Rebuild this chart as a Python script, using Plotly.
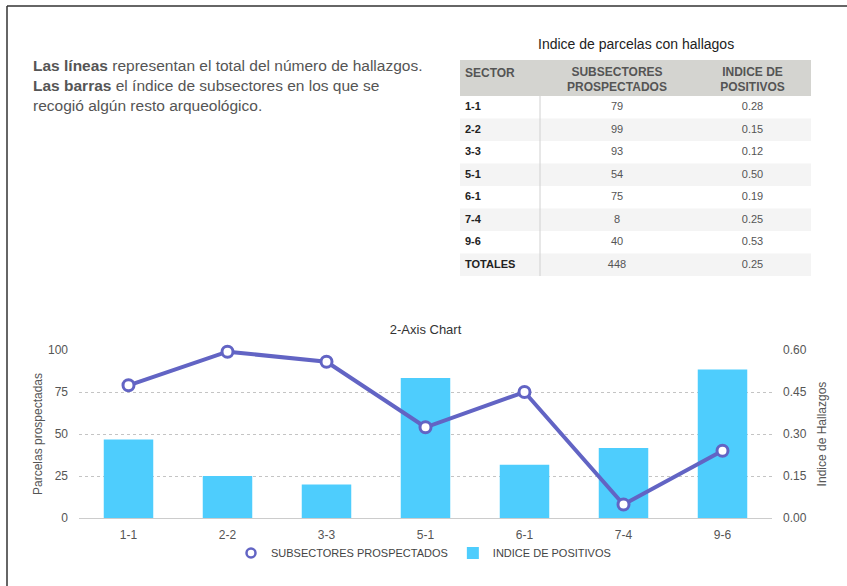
import plotly.graph_objects as go

W, H = 847, 586

# ---- data ----
sectors = ["1-1", "2-2", "3-3", "5-1", "6-1", "7-4", "9-6"]
subsectores = [79, 99, 93, 54, 75, 8, 40]
indice = [0.28, 0.15, 0.12, 0.50, 0.19, 0.25, 0.53]
total_label = "TOTALES"
total_subsectores = 448
total_indice = 0.25
left_ticks = [0, 25, 50, 75, 100]
right_ticks = [0.0, 0.15, 0.30, 0.45, 0.60]
table_headers = ["SECTOR", "SUBSECTORES<br>PROSPECTADOS", "INDICE DE<br>POSITIVOS"]

LINE_C = "#6264c4"
BAR_C = "#4ecdfd"
FONT = "Liberation Sans, Arial, Helvetica, sans-serif"


def px_x(x):
    return x / W


def px_y(y):
    return 1 - y / H


fig = go.Figure()

# ---------------- main chart ----------------
fig.add_trace(go.Bar(
    x=sectors, y=indice, name="INDICE DE POSITIVOS",
    marker=dict(color=BAR_C, line=dict(width=0)),
    xaxis="x", yaxis="y", showlegend=True, legendrank=2,
))
fig.add_trace(go.Scatter(
    x=sectors, y=subsectores, name="SUBSECTORES PROSPECTADOS",
    mode="lines+markers", cliponaxis=False,
    line=dict(color=LINE_C, width=4),
    marker=dict(size=11, color="white", line=dict(color=LINE_C, width=3)),
    xaxis="x", yaxis="y2", showlegend=False,
))
fig.add_trace(go.Scatter(
    x=[None], y=[None], name="SUBSECTORES PROSPECTADOS", mode="markers",
    marker=dict(size=9, color="white", line=dict(color=LINE_C, width=2.5)),
    xaxis="x", yaxis="y2", showlegend=True, legendrank=1,
))

# ---------------- table (on its own hidden axes) ----------------
# x3 units: pixels across the table; y3 units: body rows (header = 1.6 rows)
col_edges = [0, 80, 234, 351]
header_h = 1.6
row_labels = sectors + [total_label]
row_sub = [str(v) for v in subsectores] + [str(total_subsectores)]
row_idx = [f"{v:.2f}" for v in indice] + [f"{total_indice:.2f}"]
n_rows = len(row_labels)
row_centers = [header_h + i + 0.5 for i in range(n_rows)]
row_fill = ["#ffffff" if i % 2 == 0 else "#f4f4f4" for i in range(n_rows)]
col_mid = [(col_edges[i] + col_edges[i + 1]) / 2 for i in range(3)]

# header fill
fig.add_trace(go.Bar(
    x=[col_edges[-1]], y=[header_h / 2], width=[header_h], orientation="h", base=0,
    marker=dict(color="#d4d4d0", line=dict(width=0)),
    xaxis="x3", yaxis="y3", showlegend=False, hoverinfo="skip",
))
# row fills
fig.add_trace(go.Bar(
    x=[col_edges[-1]] * n_rows, y=row_centers, width=[1] * n_rows, orientation="h", base=0,
    marker=dict(color=row_fill, line=dict(width=0)),
    xaxis="x3", yaxis="y3", showlegend=False, hoverinfo="skip",
))
# header texts
fig.add_trace(go.Scatter(
    x=[col_edges[0] + 5], y=[0.62], mode="text", text=[f"<b>{table_headers[0]}</b>"],
    textposition="middle right", textfont=dict(family=FONT, size=12, color="#555555"),
    xaxis="x3", yaxis="y3", showlegend=False, hoverinfo="skip",
))
fig.add_trace(go.Scatter(
    x=col_mid[1:], y=[0.91, 0.91], mode="text",
    text=[f"<b>{h}</b>" for h in table_headers[1:]],
    textposition="middle center", textfont=dict(family=FONT, size=12, color="#555555"),
    xaxis="x3", yaxis="y3", showlegend=False, hoverinfo="skip",
))
# body texts
fig.add_trace(go.Scatter(
    x=[col_edges[0] + 5] * n_rows, y=row_centers, mode="text",
    text=[f"<b>{s}</b>" for s in row_labels],
    textposition="middle right", textfont=dict(family=FONT, size=11, color="#222222"),
    xaxis="x3", yaxis="y3", showlegend=False, hoverinfo="skip",
))
fig.add_trace(go.Scatter(
    x=[col_mid[1]] * n_rows, y=row_centers, mode="text", text=row_sub,
    textposition="middle center", textfont=dict(family=FONT, size=11, color="#555555"),
    xaxis="x3", yaxis="y3", showlegend=False, hoverinfo="skip",
))
fig.add_trace(go.Scatter(
    x=[col_mid[2]] * n_rows, y=row_centers, mode="text", text=row_idx,
    textposition="middle center", textfont=dict(family=FONT, size=11, color="#555555"),
    xaxis="x3", yaxis="y3", showlegend=False, hoverinfo="skip",
))

hidden = dict(visible=False, showgrid=False, zeroline=False, fixedrange=True)

fig.update_layout(
    width=W, height=H,
    margin=dict(l=0, r=0, t=0, b=0),
    paper_bgcolor="white", plot_bgcolor="rgba(0,0,0,0)",
    font=dict(family=FONT, color="#555555", size=12),
    bargap=0.5,
    title=dict(
        text="2-Axis Chart", x=0.5024, xref="paper", xanchor="center",
        y=px_y(329), yref="container", yanchor="middle",
        font=dict(size=13, color="#333333"),
    ),
    xaxis=dict(
        domain=[px_x(79), px_x(772)], type="category",
        showgrid=False, showline=True, linecolor="#cccccc", linewidth=1,
        ticks="", tickfont=dict(size=12, color="#555555"),
        ticklabelstandoff=6, automargin=False, fixedrange=True,
    ),
    yaxis=dict(
        domain=[px_y(518), px_y(350)], side="right", anchor="x",
        range=[0, 0.6], tickvals=right_ticks,
        ticktext=[f"{v:.2f}" for v in right_ticks],
        showgrid=True, gridcolor="#c4c4c4", griddash="dot", gridwidth=1,
        zeroline=False, showline=False, ticks="",
        tickfont=dict(size=12, color="#555555"), ticklabelstandoff=10,
        title=dict(text="Indice de Hallazgos", font=dict(size=12, color="#555555"), standoff=11),
        automargin=False, fixedrange=True,
    ),
    yaxis2=dict(
        overlaying="y", side="left", anchor="x",
        range=[0, 100], tickvals=left_ticks,
        showgrid=False, zeroline=False, showline=False, ticks="",
        tickfont=dict(size=12, color="#555555"), ticklabelstandoff=10,
        title=dict(text="Parcelas prospectadas", font=dict(size=12, color="#555555"), standoff=2),
        automargin=False, fixedrange=True,
    ),
    xaxis3=dict(domain=[px_x(460), px_x(811)], range=[col_edges[0], col_edges[-1]],
                anchor="y3", **hidden),
    yaxis3=dict(domain=[px_y(60 + 22.5 * (header_h + n_rows)), px_y(60)],
                range=[header_h + n_rows, 0], anchor="x3", **hidden),
    legend=dict(
        orientation="h", x=0.5, xanchor="center", y=px_y(553), yanchor="middle",
        font=dict(size=11, color="#444444"), bgcolor="rgba(0,0,0,0)",
        traceorder="normal",
    ),
    annotations=[
        dict(
            text=("<b>Las líneas</b> representan el total del número de hallazgos.<br>"
                  "<b>Las barras</b> el índice de subsectores en los que se<br>"
                  "recogió algún resto arqueológico."),
            x=px_x(31), y=px_y(55), xref="paper", yref="paper",
            xanchor="left", yanchor="top", align="left", showarrow=False,
            font=dict(size=15.5, color="#555555"),
        ),
        dict(
            text="Indice de parcelas con hallagos",
            x=px_x(636), y=px_y(44), xref="paper", yref="paper",
            xanchor="center", yanchor="middle", showarrow=False,
            font=dict(size=14, color="#222222"),
        ),
    ],
    shapes=[
        dict(type="line", xref="paper", yref="paper",
             x0=px_x(7), x1=1.05, y0=px_y(6), y1=px_y(6),
             line=dict(color="#333333", width=1.5)),
        dict(type="line", xref="paper", yref="paper",
             x0=px_x(7), x1=px_x(7), y0=px_y(6), y1=-0.05,
             line=dict(color="#333333", width=1.5)),
        # table column divider
        dict(type="line", xref="x3", yref="y3",
             x0=col_edges[1], x1=col_edges[1], y0=header_h, y1=header_h + n_rows,
             line=dict(color="#d0d0d0", width=1), layer="above"),
    ],
)

fig.write_html("out.html", config={"displayModeBar": False},
               post_script="document.body.style.margin='0px';")
